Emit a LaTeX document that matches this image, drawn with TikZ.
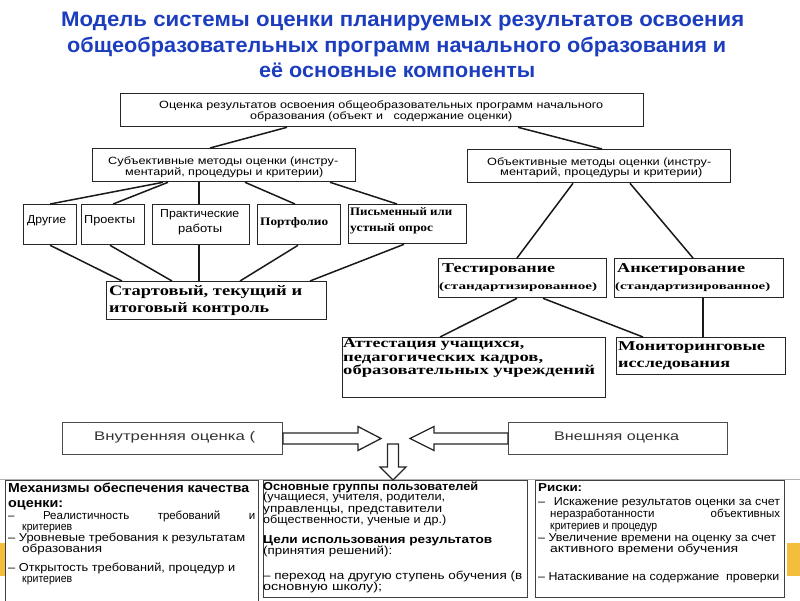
\documentclass[tikz,border=0pt]{standalone}
\usepackage{fontspec}
\setmainfont{Liberation Sans}
\newfontfamily\serifb{Liberation Serif}
\usetikzlibrary{calc}
\definecolor{titleblue}{RGB}{28,62,190}
\definecolor{orng}{RGB}{244,190,60}
\newcommand\hw[2]{\resizebox{#1pt}{\height}{#2}}
\newcommand\tl[5]{\node[txt] (#1) at (#2,#3) {\hw{#4}{#5}};}
\begin{document}
\begin{tikzpicture}[x=1pt,y=-1pt,
  box/.style={draw=black!85, line width=1.3pt, inner sep=0pt, anchor=north west, fill=white},
  bbox/.style={draw=black!75, line width=1.1pt, inner sep=0pt, anchor=north west},
  txt/.style={anchor=west, inner sep=0pt, text height=8pt, text depth=2pt},
  ttl/.style={anchor=west, inner sep=0pt, text height=14pt, text depth=3pt, text=titleblue,
     font=\fontsize{21}{25}\selectfont\bfseries},
  conn/.style={line width=1.5pt, black!90},
  barrow/.style={draw=black!85, line width=1.3pt, fill=white, line join=miter}]
\useasboundingbox (0,0) rectangle (800,600);
\fill[white] (0,0) rectangle (800,600);
% title
\node[ttl] (t1) at (61,21) {\hw{683}{Модель системы оценки планируемых результатов освоения}};
\node[ttl] (t2) at (67,47) {\hw{659}{общеобразовательных программ начального образования и}};
\node[ttl] (t3) at (259,72) {\hw{276}{её основные компоненты}};
% boxes
\node[box, minimum width=523pt, minimum height=33pt] (top) at (120,93) {};
\node[box, minimum width=263pt, minimum height=33pt] (subj) at (92,148) {};
\node[box, minimum width=263pt, minimum height=33pt] (obj) at (467,149) {};
\node[box, minimum width=53pt, minimum height=40pt] (dr) at (23,204) {};
\node[box, minimum width=63pt, minimum height=40pt] (pr) at (81,204) {};
\node[box, minimum width=97pt, minimum height=40pt] (pw) at (152,204) {};
\node[box, minimum width=83pt, minimum height=40pt] (pf) at (257,204) {};
\node[box, minimum width=118pt, minimum height=39pt] (po) at (348,204) {};
\node[box, minimum width=220pt, minimum height=38pt] (ctl) at (106,281) {};
\node[box, minimum width=168pt, minimum height=39pt] (test) at (438,258) {};
\node[box, minimum width=169pt, minimum height=39pt] (ank) at (614,258) {};
\node[box, minimum width=263pt, minimum height=60pt] (att) at (342,337) {};
\node[box, minimum width=169pt, minimum height=37pt] (mon) at (616,337) {};
% connectors
\draw[conn] ([xshift=167pt]top.south west) -- ([xshift=118pt]subj.north west);
\draw[conn] ([xshift=398pt]top.south west) -- ([xshift=135pt]obj.north west);
\draw[conn] ([xshift=71pt]subj.south west) -- (dr.north);
\draw[conn] ([xshift=76pt]subj.south west) -- (pr.north);
\draw[conn] ([xshift=107pt]subj.south west) -- ([xshift=47pt]pw.north west);
\draw[conn] ([xshift=153pt]subj.south west) -- ([xshift=38pt]pf.north west);
\draw[conn] ([xshift=238pt]subj.south west) -- ([xshift=49pt]po.north west);
\draw[conn] (dr.south) -- ([xshift=16pt]ctl.north west);
\draw[conn] ([xshift=29pt]pr.south west) -- ([xshift=66pt]ctl.north west);
\draw[conn] ([xshift=47pt]pw.south west) -- ([xshift=93pt]ctl.north west);
\draw[conn] ([xshift=41pt]pf.south west) -- ([xshift=134pt]ctl.north west);
\draw[conn] ([xshift=56pt]po.south west) -- ([xshift=204pt]ctl.north west);
\draw[conn] ([xshift=106pt]obj.south west) -- ([xshift=79pt]test.north west);
\draw[conn] ([xshift=163pt]obj.south west) -- ([xshift=79pt]ank.north west);
\draw[conn] ([xshift=79pt]test.south west) -- ([xshift=98pt]att.north west);
\draw[conn] ([xshift=105pt]test.south west) -- ([xshift=27pt]mon.north west);
\draw[conn] ([xshift=89pt]ank.south west) -- ([xshift=87pt]mon.north west);
% texts in upper part
\begin{scope}[font=\fontsize{10.5}{12}\selectfont]
\tl{ta1}{159}{105}{444}{Оценка результатов освоения общеобразовательных программ начального}
\tl{ta2}{250}{116}{262}{образования (объект и \ \ содержание оценки)}
\tl{sa1}{108}{161}{230}{Субъективные методы оценки (инстру-}
\tl{sa2}{125}{172}{198}{ментарий, процедуры и критерии)}
\tl{oa1}{487}{162}{224}{Объективные методы оценки (инстру-}
\tl{oa2}{500}{172}{202}{ментарий, процедуры и критерии)}
\end{scope}
\begin{scope}[font=\fontsize{11.5}{13}\selectfont]
\tl{dra}{27}{220}{39}{Другие}
\tl{pra}{84}{220}{51}{Проекты}
\tl{pwa}{160}{214}{79}{Практические}
\tl{pwb}{178}{229}{44}{работы}
\end{scope}
\begin{scope}[font=\fontsize{11.5}{13}\selectfont\serifb\bfseries]
\tl{pfa}{260}{222}{68}{Портфолио}
\tl{poa}{350}{212}{102}{Письменный или}
\tl{pob}{350}{228}{83}{устный опрос}
\end{scope}
\begin{scope}[font=\fontsize{14.5}{16}\selectfont\serifb\bfseries]
\tl{ca}{109}{292}{193}{Стартовый, текущий и}
\tl{cb}{109}{309}{160}{итоговый контроль}
\end{scope}
\begin{scope}[font=\fontsize{13.5}{15}\selectfont\serifb\bfseries]
\tl{tea}{442}{269}{113}{Тестирование}
\tl{ana}{617}{269}{128}{Анкетирование}
\tl{ata}{343}{344}{181}{Аттестация учащихся,}
\tl{atb}{343}{358}{200}{педагогических кадров,}
\tl{atc}{343}{371}{252}{образовательных учреждений}
\tl{moa}{618}{347}{147}{Мониторинговые}
\tl{mob}{618}{364}{112}{исследования}
\end{scope}
\begin{scope}[font=\fontsize{10}{12}\selectfont\serifb\bfseries]
\tl{teb}{439}{286}{158}{(стандартизированное)}
\tl{anb}{615}{286}{155}{(стандартизированное)}
\end{scope}
% internal / external
\node[box, draw=black!70, line width=1pt, minimum width=220pt, minimum height=32pt] (inn) at (62,422) {};
\node[box, draw=black!70, line width=1pt, minimum width=219pt, minimum height=32pt] (ext) at (508,422) {};
\begin{scope}[font=\fontsize{12.5}{14}\selectfont, text=black!80]
\tl{ina}{94}{437}{161}{Внутренняя оценка (}
\tl{exa}{554}{437}{125}{Внешняя оценка}
\end{scope}
% separator and orange bars
\draw[black!30, line width=1pt] (0,479) -- (800,479);
\fill[orng] (0,543) rectangle (5,576);
\fill[orng] (787,543) rectangle (800,576);
% bottom boxes
\node[bbox, minimum width=253pt, minimum height=125pt] (lft) at (5,480) {};
\node[bbox, minimum width=264pt, minimum height=117pt] (mid) at (263,480) {};
\node[bbox, minimum width=249pt, minimum height=117pt] (rgt) at (535,480) {};
% block arrows
\draw[barrow] ([yshift=5.5pt]inn.east) -- ++(75,0) -- ++(0,-6.5) -- ++(23,12) -- ++(-23,12) -- ++(0,-6.5) -- ++(-75,0) -- cycle;
\draw[barrow] ([yshift=5.5pt]ext.west) -- ++(-74,0) -- ++(0,-6.5) -- ++(-24,12) -- ++(24,12) -- ++(0,-6.5) -- ++(74,0) -- cycle;
\draw[barrow] ([xshift=130pt]mid.north west) -- ++(-13,-13) -- ++(7.5,0) -- ++(0,-23) -- ++(11,0) -- ++(0,23) -- ++(7.5,0) -- cycle;
% bottom left text
\begin{scope}[font=\fontsize{13}{15}\selectfont\bfseries]
\tl{la}{8}{489}{241}{Механизмы обеспечения качества}
\tl{lb}{8}{504}{55}{оценки:}
\end{scope}
\begin{scope}[font=\fontsize{11.5}{13}\selectfont]
\node[txt] (lc) at (8,516) {\makebox[247pt][s]{– \quad Реалистичность \quad требований \quad и}};
\tl{ld}{22}{527}{50}{критериев}
\tl{le}{8}{538}{237}{– Уровневые требования к результатам}
\tl{lf}{22}{549}{80}{образования}
\tl{lg}{8}{568}{227}{– Открытость требований, процедур и}
\tl{lh}{22}{579}{50}{критериев}
% middle
\tl{mb}{263}{497}{182}{(учащиеся, учителя, родители,}
\tl{mc}{263}{509}{179}{управленцы, представители}
\tl{md}{263}{520}{183}{общественности, ученые и др.)}
\tl{mf}{263}{551}{129}{(принятия решений):}
\tl{mg}{263}{576}{259}{– переход на другую ступень обучения (в}
\tl{mh}{263}{587}{119}{основную школу);}
% right
\tl{rb}{538}{502}{242}{–\hspace{8pt}Искажение результатов оценки за счет}
\node[txt] (rc) at (550,514) {\makebox[230pt][s]{неразработанности \quad объективных}};
\tl{rd}{550}{526}{107}{критериев и процедур}
\tl{re}{538}{538}{238}{– Увеличение времени на оценку за счет}
\tl{rf}{550}{549}{188}{активного времени обучения}
\tl{rg}{538}{577}{241}{– Натаскивание на содержание \ проверки}
\end{scope}
\begin{scope}[font=\fontsize{11.5}{13}\selectfont\bfseries]
\tl{ma}{263}{487}{215}{Основные группы пользователей}
\tl{me}{263}{540}{229}{Цели использования результатов}
\tl{ra}{538}{488}{44}{Риски:}
\end{scope}
\end{tikzpicture}
\end{document}
